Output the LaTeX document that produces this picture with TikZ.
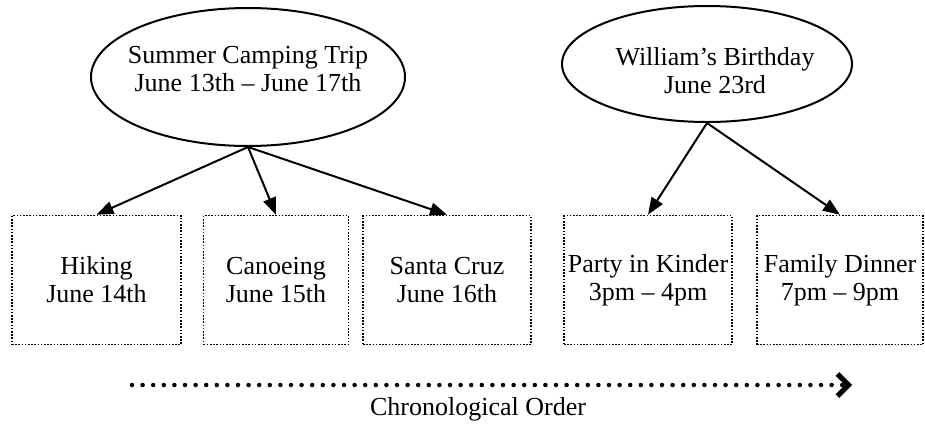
\documentclass[tikz,border=0pt]{standalone}
\usepackage{fontspec}
\setmainfont{Liberation Serif}
\usetikzlibrary{arrows.meta,shapes.geometric}
\begin{document}
\begin{tikzpicture}[x=1pt,y=-1pt,
  every node/.style={font=\fontsize{26}{28}\selectfont},
  event/.style={draw, ellipse, line width=2pt, inner sep=0pt},
  caption/.style={align=center, inner sep=0pt},
  activity/.style={draw, line width=1.6pt, dash pattern=on 1.6pt off 1.6pt,
    minimum height=129pt, align=center, inner sep=0pt},
  link/.style={line width=2pt, -{Triangle[length=17pt,width=13pt]}},
  timeline/.style={line width=4.5pt, line cap=round, dash pattern=on 0pt off 10.6pt,
    -{Straight Barb[length=11pt,width=22pt,line width=5pt]}}
]
\useasboundingbox (0,0) rectangle (925,423);

% top-level events
\node[event, minimum width=314pt, minimum height=138pt] (camp) at (248,77) {};
\node[caption] (campTxt) at (248,69) {Summer Camping Trip\\June 13th -- June 17th};
\node[event, minimum width=290pt, minimum height=116pt] (bday) at (707,64) {};
\node[caption] (bdayTxt) at (715,71) {William's Birthday\\June 23rd};

% activities
\node[activity, minimum width=169pt] (hike)   at (96.5,280) {Hiking\\June 14th};
\node[activity, minimum width=145pt] (canoe)  at (276,280)  {Canoeing\\June 15th};
\node[activity, minimum width=168pt] (santa)  at (447,280)  {Santa Cruz\\June 16th};
\node[activity, minimum width=168pt] (party)  at (648,280)  {Party in Kinder\\3pm -- 4pm};
\node[activity, minimum width=166pt] (dinner) at (840,280)  {Family Dinner\\7pm -- 9pm};

% event-to-activity links
\draw[link] (camp.south) -- (hike.north);
\draw[link] (camp.south) -- (canoe.north);
\draw[link] (camp.south) -- (santa.north);
\draw[link] (bday.south) -- (party.north);
\draw[link] (bday.south) -- (dinner.north);

% time axis
\coordinate (tStart) at (132,385);
\coordinate (tEnd) at (852,385);
\draw[timeline] (tStart) -- (tEnd);
\node[inner sep=0pt, anchor=base] (tLabel) at (478,415) {Chronological Order};
\end{tikzpicture}
\end{document}
